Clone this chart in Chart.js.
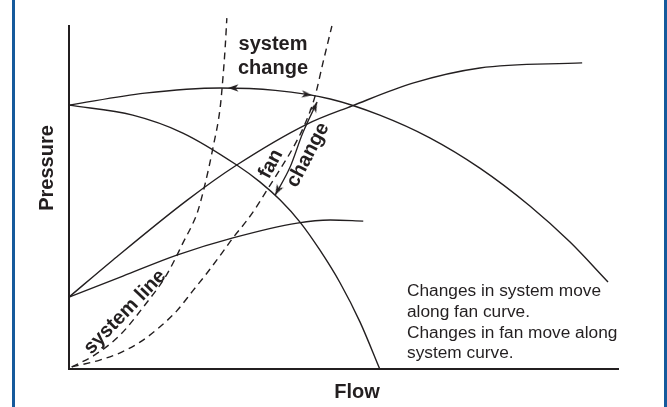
<!DOCTYPE html>
<html lang="en">
<head>
<meta charset="UTF-8">
<title>Fan and system curves</title>
<script src="https://cdn.jsdelivr.net/npm/chart.js"></script>
<style>
  body { margin: 0; background: #fff; }
  .frame { position: relative; width: 667px; height: 407px; }
  .frame:before, .frame:after { content: ''; position: absolute; top: 0; bottom: 0; width: 3px; background: #155a9c; }
  .frame:before { left: 12px; }
  .frame:after { right: 0; }
  canvas { display: block; }
</style>
</head>
<body>
<div class="frame">
  <canvas id="curves" width="667" height="407"></canvas>
</div>

<script>
// flow (x) and pressure (y) in relative units, 0..100 on both axes
const fanHigh = [[0, 76.7], [13.8, 80.2], [27.5, 81.7], [37.5, 81.0], [47.5, 78.5], [56.5, 73.8], [65.6, 67.2], [74.7, 58.4], [83.8, 47.4], [91.1, 36.9], [98.0, 25.3]];
const fanLow = [[0, 76.7], [11.6, 73.8], [20.7, 68.6], [30.5, 59.3], [34.7, 54.4], [38.4, 49.1], [42.0, 42.7], [45.6, 34.6], [49.3, 25.0], [52.9, 13.7], [56.5, 0]];
const riseHigh = [[0, 20.9], [8.0, 31.7], [21.5, 49.1], [30.5, 59.3], [43.3, 71.2], [51.5, 76.5], [62.5, 83.1], [74.7, 87.5], [93.3, 89.0]];
const riseLow = [[0, 20.9], [9.8, 27.0], [19.6, 33.1], [29.8, 38.1], [41.5, 42.4], [47.5, 43.3], [53.5, 43.0]];
const systemLeft = [[0.5, 0.6], [4.7, 4.1], [9.3, 9.9], [13.8, 18.6], [17.5, 26.7], [19.3, 32.0], [20.7, 36.6], [22.4, 41.9], [23.3, 45.3], [24.7, 53.5], [26.2, 64.5], [27.5, 76.2], [28.0, 84.9], [28.4, 93.6], [28.7, 102.0]];
const systemRight = [[0.5, 0.6], [5.6, 2.6], [9.3, 4.7], [12.9, 7.8], [16.5, 12.2], [19.6, 16.9], [22.5, 22.7], [25.1, 27.9], [27.8, 33.7], [29.8, 38.1], [32.4, 43.3], [34.2, 47.4], [36.0, 52.0], [38.4, 58.1], [40.7, 64.2], [42.9, 71.2], [44.7, 79.1], [46.2, 89.2], [47.8, 99.7]];
const fanChange = [[45.1, 77.6], [42.5, 68.6], [40.2, 58.7], [37.5, 50.6]];
const arrowTips = [[28.9, 81.7], [44.2, 79.6], [45.1, 77.6], [37.5, 50.6]];
const arrowTurn = [270, 97, 24, 208];

const ink = '#231f20';
const font = '"Liberation Sans", Arial, sans-serif';
const pts = arr => arr.map(([x, y]) => ({ x, y }));

// barbed arrowhead, tip in the middle of the image so rotation turns round the tip
const head = document.createElement('canvas');
head.width = 24; head.height = 24;
const hc = head.getContext('2d');
hc.fillStyle = ink;
hc.beginPath();
hc.moveTo(12, 12); hc.lineTo(8.3, 22.5); hc.lineTo(12, 19.5); hc.lineTo(15.7, 22.5);
hc.closePath();
hc.fill();

function curve(data, dashed) {
  return {
    data: pts(data),
    showLine: true,
    borderColor: ink,
    borderWidth: 1.4,
    borderDash: dashed ? [7, 5] : [],
    pointRadius: 0,
    cubicInterpolationMode: 'monotone',
    clip: false
  };
}

const labels = {
  id: 'labels',
  beforeDatasetsDraw(chart) {
    const { ctx, chartArea: a } = chart;
    ctx.save();
    ctx.strokeStyle = ink;
    ctx.lineWidth = 2;
    ctx.beginPath();
    ctx.moveTo(a.left, a.top);
    ctx.lineTo(a.left, a.bottom);
    ctx.lineTo(a.right, a.bottom);
    ctx.stroke();
    ctx.restore();
  },
  afterDatasetsDraw(chart) {
    const ctx = chart.ctx;
    ctx.save();
    ctx.fillStyle = ink;

    const turned = (text, x, y, deg) => {
      ctx.save();
      ctx.translate(x, y);
      ctx.rotate(deg * Math.PI / 180);
      ctx.textAlign = 'center';
      ctx.textBaseline = 'middle';
      ctx.fillText(text, 0, 0);
      ctx.restore();
    };

    ctx.font = 'bold 20px ' + font;
    ctx.textAlign = 'center';
    ctx.fillText('system', 273, 50);
    ctx.fillText('change', 273, 73.5);
    ctx.fillText('Flow', 357, 398);
    turned('Pressure', 47, 168, -90);
    turned('fan', 271, 164, -62);
    turned('change', 308, 155, -62);
    turned('system line', 125, 312, -46);

    ctx.font = '17.3px ' + font;
    ctx.textAlign = 'left';
    ['Changes in system move', 'along fan curve.', 'Changes in fan move along', 'system curve.']
      .forEach((t, i) => ctx.fillText(t, 407, 296 + i * 20.8));
    ctx.restore();
  }
};

new Chart(document.getElementById('curves'), {
  type: 'scatter',
  data: {
    datasets: [
      curve(fanHigh, false),
      curve(fanLow, false),
      curve(riseHigh, false),
      curve(riseLow, false),
      curve(systemLeft, true),
      curve(systemRight, true),
      { ...curve(fanChange, false), borderWidth: 1.3 },
      {
        data: pts(arrowTips),
        showLine: false,
        pointStyle: head,
        pointRotation: arrowTurn,
        pointRadius: 6,
        clip: false
      }
    ]
  },
  options: {
    responsive: false,
    animation: false,
    events: [],
    layout: { padding: { left: 69, right: 48, top: 25, bottom: 38 } },
    plugins: { legend: { display: false }, tooltip: { enabled: false } },
    scales: {
      x: { type: 'linear', min: 0, max: 100, display: false },
      y: { type: 'linear', min: 0, max: 100, display: false }
    }
  },
  plugins: [labels]
});
</script>
</body>
</html>
